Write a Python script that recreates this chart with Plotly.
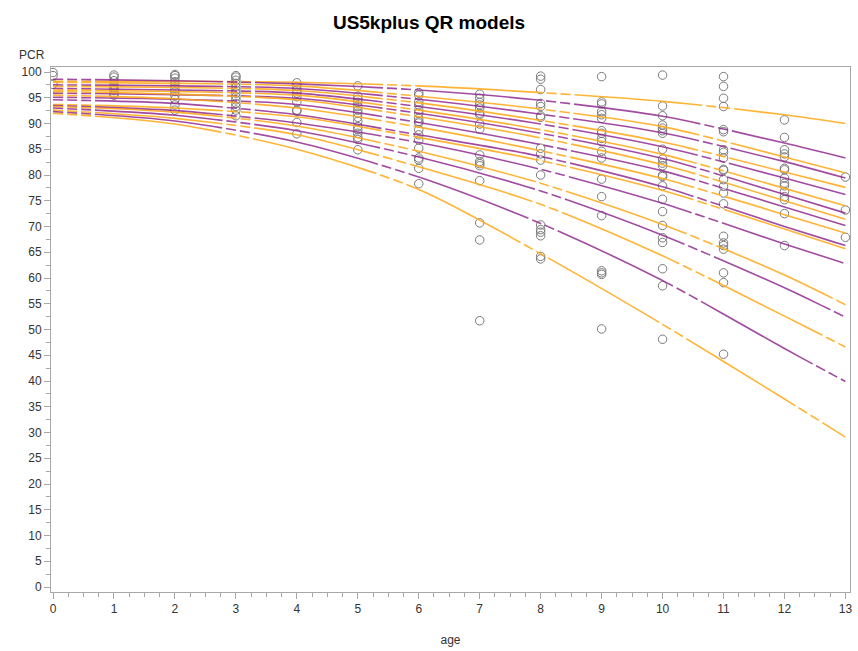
import plotly.graph_objects as go

# ---------------- data ----------------
curve_ages = [0, 2, 4, 6, 8, 10, 12, 13]

# quantile regression curves (top to bottom at age 13), alternating colours
q01 = [98.2, 98.2, 98.0, 97.3, 96.0, 94.3, 91.7, 90.0]
q02 = [98.6, 98.3, 97.7, 96.5, 94.5, 91.4, 86.2, 83.3]
q03 = [98.0, 97.8, 97.3, 95.3, 92.8, 89.4, 83.5, 80.4]
q04 = [97.5, 97.3, 96.8, 94.7, 91.8, 88.2, 82.6, 79.4]
q05 = [97.2, 97.0, 96.4, 94.0, 90.6, 86.4, 80.6, 77.6]
q06 = [96.8, 96.5, 95.9, 93.3, 89.9, 85.5, 79.4, 76.2]
q07 = [96.5, 96.2, 95.5, 92.6, 88.8, 84.0, 77.4, 74.0]
q08 = [95.9, 95.6, 94.9, 92.0, 88.1, 83.2, 76.2, 72.6]
q09 = [96.2, 95.7, 94.6, 91.3, 87.2, 82.0, 75.0, 71.4]
q10 = [95.1, 94.7, 93.7, 90.2, 85.9, 80.8, 73.8, 70.2]
q11 = [95.5, 94.8, 93.0, 89.3, 84.7, 79.3, 72.3, 68.7]
q12 = [94.6, 93.9, 91.7, 87.8, 83.6, 77.7, 70.0, 66.3]
q13 = [93.7, 93.0, 91.3, 87.3, 82.8, 77.0, 69.5, 65.7]
q14 = [93.5, 92.5, 90.1, 86.3, 81.1, 74.5, 66.6, 62.8]
q15 = [93.3, 92.2, 89.5, 84.6, 78.4, 70.4, 60.6, 54.8]
q16 = [93.0, 91.6, 88.6, 83.5, 76.9, 68.3, 58.1, 52.4]
q17 = [92.6, 91.0, 87.8, 81.6, 74.3, 64.3, 52.6, 46.6]
q18 = [92.3, 90.5, 86.4, 79.6, 70.6, 59.5, 46.3, 39.9]
q19 = [92.0, 89.9, 85.0, 77.2, 64.7, 51.0, 36.5, 29.1]
curves = [q01, q02, q03, q04, q05, q06, q07, q08, q09, q10,
          q11, q12, q13, q14, q15, q16, q17, q18, q19]
curve_colors = ["orange", "purple"]

# observations (PCR by age)
pcr_age0 = [99.9, 99.3, 97.6]
pcr_age1 = [99.4, 99.0, 98.3, 97.4, 96.9, 96.4, 95.9, 95.5]
pcr_age2 = [99.5, 99.3, 98.8, 98.1, 97.5, 96.8, 96.2, 95.5, 94.7, 93.6, 92.6]
pcr_age3 = [99.3, 99.0, 98.4, 97.8, 97.1, 96.5, 95.9, 95.2, 94.6, 93.9, 93.3, 92.6, 91.5]
pcr_age4 = [97.9, 97.2, 96.5, 95.9, 95.2, 94.2, 92.6, 92.4, 90.2, 88.0]
pcr_age5 = [97.3, 95.3, 94.7, 94.1, 93.3, 92.6, 92.0, 91.2, 90.4, 89.4, 88.8, 88.1, 87.3, 86.9, 84.9]
pcr_age6 = [96.0, 95.5, 94.2, 93.6, 92.6, 92.0, 91.0, 90.4, 90.1, 88.8, 87.8, 86.8, 85.2, 83.3, 82.9, 81.3, 78.3]
pcr_age7 = [95.7, 94.9, 94.1, 93.6, 93.0, 92.0, 91.7, 89.9, 88.9, 83.9, 82.6, 82.2, 81.8, 78.9, 70.7, 67.4, 51.7]
pcr_age8 = [99.2, 98.6, 96.6, 93.9, 93.3, 91.5, 91.2, 85.2, 84.1, 82.9, 80.0, 70.3, 69.4, 68.9, 68.2, 64.2, 63.7]
pcr_age9 = [99.1, 94.2, 93.8, 92.3, 91.7, 91.0, 88.6, 88.1, 87.1, 86.5, 84.6, 83.3, 79.2, 75.8, 72.1, 61.4, 61.0, 60.7, 50.1]
pcr_age10 = [99.4, 93.4, 91.5, 89.7, 89.1, 88.6, 88.1, 85.0, 83.1, 82.3, 81.8, 80.0, 79.7, 77.9, 75.3, 72.9, 70.2, 67.8, 66.9, 61.8, 58.5, 48.1]
pcr_age11 = [99.1, 97.2, 94.9, 93.3, 88.8, 88.4, 84.9, 84.4, 83.3, 81.1, 80.9, 79.1, 77.8, 76.5, 74.4, 68.1, 66.8, 66.3, 65.6, 61.0, 59.1, 45.2]
pcr_age12 = [90.7, 87.3, 84.9, 84.1, 83.5, 81.3, 81.0, 79.4, 78.4, 77.9, 76.8, 75.8, 75.2, 72.5, 66.3]
pcr_age13 = [79.6, 73.2, 67.9]
obs = [pcr_age0, pcr_age1, pcr_age2, pcr_age3, pcr_age4, pcr_age5, pcr_age6,
       pcr_age7, pcr_age8, pcr_age9, pcr_age10, pcr_age11, pcr_age12, pcr_age13]

x_ticks = list(range(0, 14))
y_ticks = list(range(0, 101, 5))

# ---------------- style ----------------
color_map = {"orange": "rgba(255,170,25,0.88)", "purple": "rgba(140,35,140,0.82)"}
# SAS-like line pattern: a few short dashes, then a long solid run (repeats along the path)
line_pattern = "10px,4px,10px,4px,10px,4px,118px,0px"
font_family = "Liberation Sans, Arial, sans-serif"

fig = go.Figure()

obs_x, obs_y = [], []
for age, vals in enumerate(obs):
    obs_x += [age] * len(vals)
    obs_y += vals
fig.add_trace(go.Scatter(
    x=obs_x, y=obs_y, mode="markers",
    marker=dict(symbol="circle-open", size=8.5, color="#7a7a7a", line=dict(width=1)),
    showlegend=False, hoverinfo="x+y"))

for i, c in enumerate(curves):
    col = color_map[curve_colors[i % 2]]
    fig.add_trace(go.Scatter(
        x=curve_ages, y=c, mode="lines",
        line=dict(color=col, width=1.6, shape="spline", smoothing=0.8, dash=line_pattern),
        showlegend=False, hoverinfo="skip"))

axis_common = dict(
    showgrid=False, zeroline=False, showline=True, mirror=True,
    linecolor="#a8a8a8", linewidth=1,
    ticks="outside", ticklen=6, tickcolor="#a8a8a8", tickwidth=1,
    tickfont=dict(family=font_family, size=12, color="#333333"),
)

fig.update_layout(
    width=858, height=651,
    margin=dict(l=51, r=6, t=67, b=58),
    paper_bgcolor="white", plot_bgcolor="white",
    title=dict(text="<b>US5kplus QR models</b>", x=0.5, xref="container", xanchor="center",
               y=0.966, yref="container", yanchor="middle",
               font=dict(family=font_family, size=19, color="#000000")),
    xaxis=dict(range=[-0.033, 13.075], tickvals=x_ticks, ticktext=[str(t) for t in x_ticks],
               minor=dict(dtick=0.25, tick0=0, ticks="outside", ticklen=4, tickcolor="#a8a8a8"),
               title=dict(text="age", font=dict(family=font_family, size=12, color="#333333"),
                          standoff=20),
               **axis_common),
    yaxis=dict(range=[-0.97, 100.97], tickvals=y_ticks, ticktext=[str(t) for t in y_ticks],
               minor=dict(dtick=2.5, tick0=0, ticks="outside", ticklen=4, tickcolor="#a8a8a8"),
               **axis_common),
    annotations=[dict(text="PCR", xref="paper", yref="paper", x=-0.024, y=1.005,
                      xanchor="center", yanchor="bottom", showarrow=False,
                      font=dict(family=font_family, size=12, color="#333333"))],
)

fig.write_html("out.html")
